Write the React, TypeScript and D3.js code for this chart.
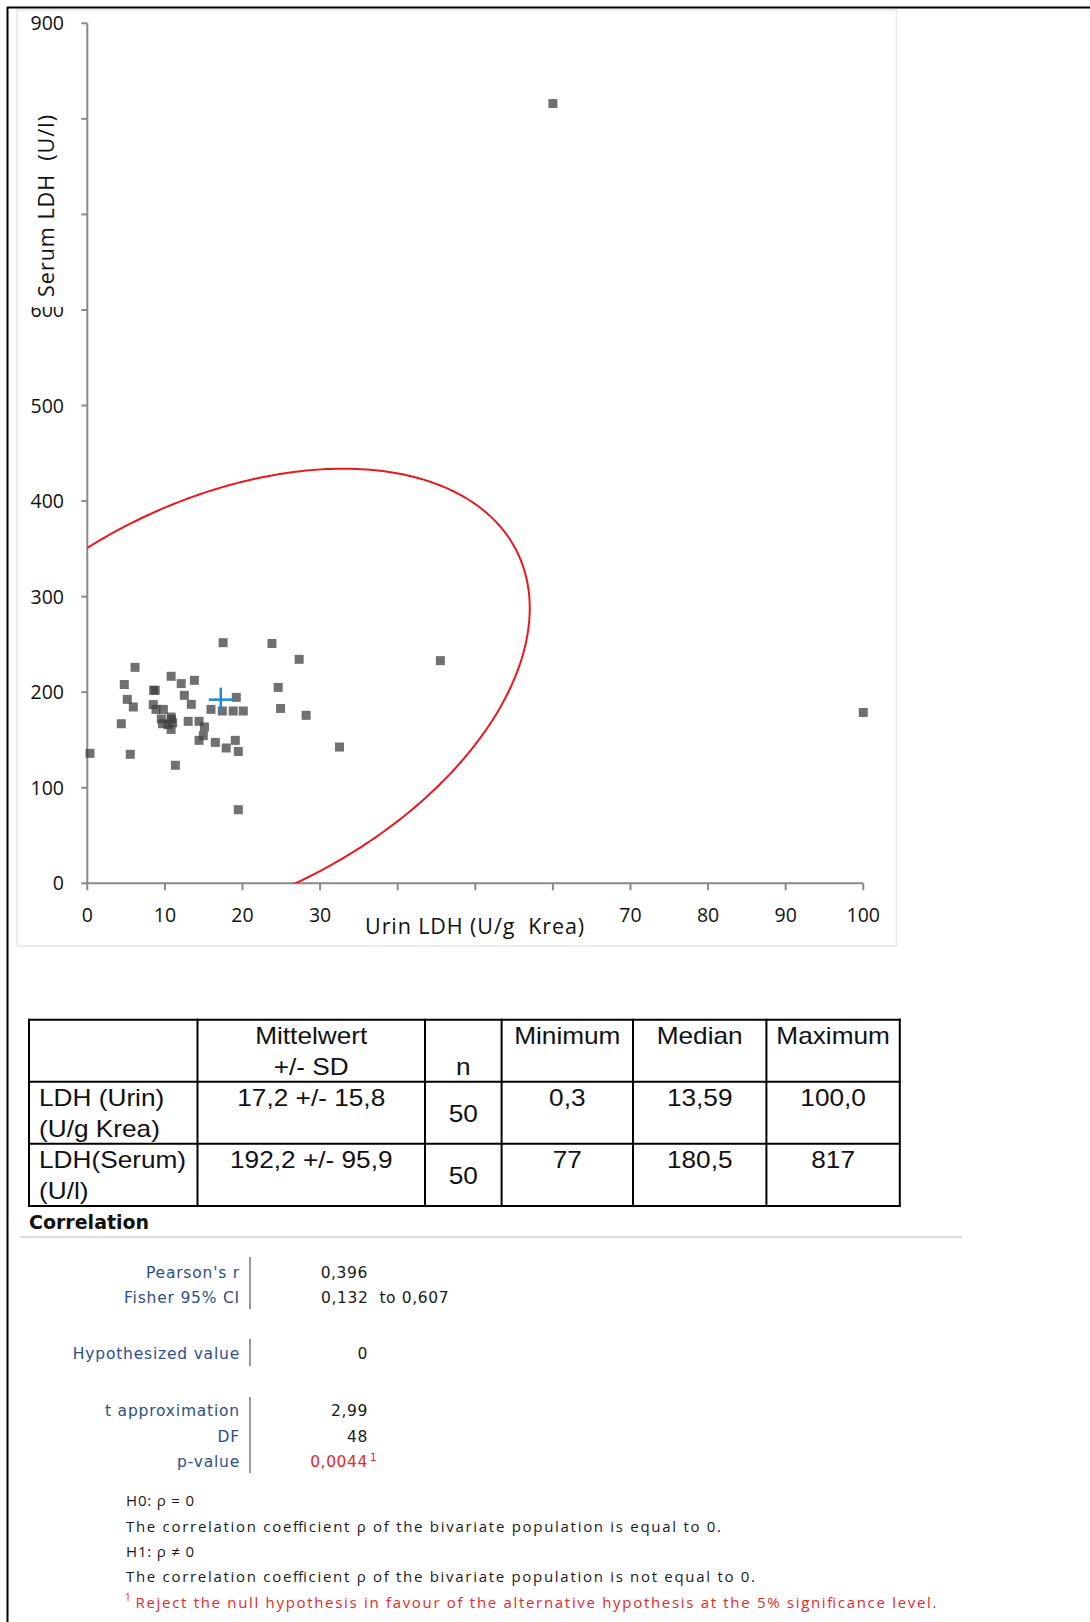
import React from 'react';
import * as d3 from 'd3';

// ---------- data ----------
const urinLDH = [0.35, 4.77, 6.15, 4.38, 5.15, 5.93, 5.54, 8.55, 8.75, 8.5, 8.85, 9.8, 9.54, 9.7, 10.4, 10.8, 10.85, 10.8, 10.8, 11.35, 12.1, 12.5, 13.8, 13.4, 13.0, 14.4, 15.1, 14.95, 14.4, 15.94, 16.5, 17.5, 17.4, 17.9, 19.2, 18.8, 20.1, 19.07, 19.46, 19.46, 23.8, 24.6, 24.9, 27.3, 28.2, 32.5, 45.5, 60.0, 100.0, 11.0];
const serumLDH = [136, 208, 226, 167, 192.5, 184.5, 135, 202, 202, 187, 182, 182, 172, 167, 166, 174, 171.5, 161, 216.6, 123.5, 209, 196.7, 212.4, 187.3, 169.5, 169.5, 163.6, 154.5, 149.6, 182, 147.5, 251.8, 180.3, 141.6, 194.6, 180.3, 180.3, 149.6, 138, 77, 251, 205, 183, 234.4, 175.8, 142.6, 233, 816, 178.8, 168];

const meanValues = [17.2, 192.2]; // urin, serum
const sdValues = [15.8, 95.9];
const pearsonR = [0.396];
const ellipseScale = [2.52];

const xTicks = [0, 10, 20, 30, 40, 50, 60, 70, 80, 90, 100];
// labels 40-60 are hidden behind the axis title in the original
const xTickLabels = ['0', '10', '20', '30', '', '', '', '70', '80', '90', '100'];
const yTicks = [0, 100, 200, 300, 400, 500, 600, 700, 800, 900];
// labels 700-800 are hidden behind the axis title in the original
const yTickLabels = ['0', '100', '200', '300', '400', '500', '600', '', '', '900'];
const xTitle = 'Urin LDH (U/g  Krea)';
const yTitle = 'Serum LDH  (U/l)';

const tableHeader = [['', ''], ['Mittelwert', '+/- SD'], ['', 'n'], ['Minimum', ''], ['Median', ''], ['Maximum', '']];
const rowLabels = [['LDH (Urin)', '(U/g Krea)'], ['LDH(Serum)', '(U/l)']];
const rowMeanSD = ['17,2 +/- 15,8', '192,2 +/- 95,9'];
const rowN = ['50', '50'];
const rowMin = ['0,3', '77'];
const rowMedian = ['13,59', '180,5'];
const rowMax = ['100,0', '817'];

const statLabels = ['Pearson\'s r', 'Fisher 95% CI', 'Hypothesized value', 't approximation', 'DF', 'p-value'];
const statValues = ['0,396', '0,132  to 0,607', '0', '2,99', '48', '0,0044'];
const noteLines = [
  'H0: ρ = 0',
  'The correlation coefficient ρ of the bivariate population is equal to 0.',
  'H1: ρ ≠ 0',
  'The correlation coefficient ρ of the bivariate population is not equal to 0.',
];
const footnote = 'Reject the null hypothesis in favour of the alternative hypothesis at the 5% significance level.';

// ---------- layout ----------
const W = 1090;
const H = 1622;
const plot = { left: 87.3, right: 863.3, top: 23.3, bottom: 883.3 };
const axisColor = '#8a8a8a';
const tickFont = '"Open Sans", sans-serif';

export default function App() {
  const x = d3.scaleLinear().domain([0, 100]).range([plot.left, plot.right]);
  const y = d3.scaleLinear().domain([0, 900]).range([plot.bottom, plot.top]);

  const [mx, my] = meanValues;
  const [sx, sy] = sdValues;
  const r = pearsonR[0];
  const k = ellipseScale[0];
  const ellipsePts: [number, number][] = d3.range(0, 361).map((i) => {
    const t = (i * Math.PI) / 180;
    return [
      mx + k * sx * Math.cos(t),
      my + k * sy * (r * Math.cos(t) + Math.sqrt(1 - r * r) * Math.sin(t)),
    ];
  });
  const ellipsePath = d3.line<[number, number]>().x((d) => x(d[0])).y((d) => y(d[1]))(ellipsePts) || '';

  const tX = [29, 197.5, 425, 501.6, 633, 766.4, 899.8];
  const tY = [1019.7, 1081.8, 1143.8, 1205.9];
  const colCenter = (c: number) => (tX[c] + tX[c + 1]) / 2;
  const tFont = '"Liberation Sans", Arial, sans-serif';
  const tSize = 23;
  const sX = 1.14;

  const TT = (props: { x: number; y: number; text: string; anchor?: string }) => (
    <text
      transform={`translate(${props.x},${props.y}) scale(${sX},1)`}
      textAnchor={props.anchor || 'middle'}
      fontFamily={tFont}
      fontSize={tSize}
      fill="#111"
    >
      {props.text}
    </text>
  );

  const statBase = [1277.5, 1303, 1359, 1416, 1441.5, 1466.5];
  const statFont = '"DejaVu Sans", sans-serif';
  const statBlue = '#2c4f8a';
  const red = '#e62828';
  const noteBase = [1506, 1531.5, 1556.5, 1582, 1608];
  const noteLen = [68, 595, 68, 629];

  return (
    <svg
      width={W}
      height={H}
      style={{ position: 'absolute', left: 0, top: 0, background: '#fff' }}
      xmlns="http://www.w3.org/2000/svg"
    >
      <defs>
        <clipPath id="plotClip">
          <rect x={plot.left} y={plot.top} width={plot.right - plot.left} height={plot.bottom - plot.top} />
        </clipPath>
      </defs>
      <rect x={0} y={0} width={W} height={H} fill="#fff" />

      {/* outer black frame lines */}
      <line x1={7} x2={W} y1={7.5} y2={7.5} stroke="#000" strokeWidth={2} />
      <line x1={7.5} x2={7.5} y1={7} y2={H} stroke="#000" strokeWidth={2} />

      {/* chart area border */}
      <rect x={17} y={10} width={879.5} height={936} fill="#fff" stroke="#ececec" strokeWidth={2} />

      {/* axes */}
      <line x1={plot.left} x2={plot.left} y1={y(900)} y2={y(0)} stroke={axisColor} strokeWidth={2} />
      <line x1={plot.left} x2={plot.right} y1={y(0)} y2={y(0)} stroke={axisColor} strokeWidth={2} />
      {yTicks.map((t, i) => (
        <g key={'yt' + t}>
          <line x1={plot.left - 6} x2={plot.left} y1={y(t)} y2={y(t)} stroke={axisColor} strokeWidth={2} />
          {yTickLabels[i] && (
            <text x={64} y={y(t) + 7} textAnchor="end" fontFamily={tickFont} fontSize={19.5} fill="#111">
              {yTickLabels[i]}
            </text>
          )}
        </g>
      ))}
      {xTicks.map((t, i) => (
        <g key={'xt' + t}>
          <line x1={x(t)} x2={x(t)} y1={y(0)} y2={y(0) + 7} stroke={axisColor} strokeWidth={2} />
          {xTickLabels[i] && (
            <text x={x(t)} y={921.7} textAnchor="middle" fontFamily={tickFont} fontSize={19.5} fill="#111">
              {xTickLabels[i]}
            </text>
          )}
        </g>
      ))}

      {/* axis titles with white backgrounds (the y one clips the top of the "600" label like the original) */}
      <rect x={22} y={104} width={50} height={203} fill="#fff" />
      <text
        transform={`translate(54,206) rotate(-90)`}
        textAnchor="middle"
        fontFamily={tickFont}
        fontSize={21.5}
        fill="#111"
        textLength={182}
        style={{ whiteSpace: 'pre' }}
      >
        {yTitle}
      </text>
      <text
        x={474.6}
        y={934}
        textAnchor="middle"
        fontFamily={tickFont}
        fontSize={21.5}
        fill="#111"
        textLength={219}
        style={{ whiteSpace: 'pre' }}
      >
        {xTitle}
      </text>

      {/* ellipse */}
      <path d={ellipsePath} fill="none" stroke="#e8191e" strokeWidth={2} clipPath="url(#plotClip)" />

      {/* points */}
      {urinLDH.map((u, i) => (
        <rect
          key={'p' + i}
          x={x(u) - 4.5}
          y={y(serumLDH[i]) - 4.5}
          width={9}
          height={9}
          fill="#404040"
          fillOpacity={0.75}
        />
      ))}

      {/* mean cross */}
      <line x1={x(mx) - 12} x2={x(mx) + 12} y1={y(my)} y2={y(my)} stroke="#1e8ad6" strokeWidth={2.5} />
      <line x1={x(mx)} x2={x(mx)} y1={y(my) - 12} y2={y(my) + 12} stroke="#1e8ad6" strokeWidth={2.5} />

      {/* table */}
      {tX.map((tx, i) => (
        <line key={'tv' + i} x1={tx} x2={tx} y1={tY[0] - 1} y2={tY[3] + 1} stroke="#000" strokeWidth={2} />
      ))}
      {tY.map((ty, i) => (
        <line key={'th' + i} x1={tX[0] - 1} x2={tX[6] + 1} y1={ty} y2={ty} stroke="#000" strokeWidth={2} />
      ))}
      {tableHeader.map((h, c) => (
        <g key={'hd' + c}>
          {h[0] && <TT x={colCenter(c)} y={tY[0] + 24.5} text={h[0]} />}
          {h[1] && <TT x={colCenter(c)} y={tY[0] + 55.5} text={h[1]} />}
        </g>
      ))}
      {rowLabels.map((lab, ri) => {
        const top = tY[ri + 1];
        return (
          <g key={'row' + ri}>
            <TT x={39} y={top + 24.5} text={lab[0]} anchor="start" />
            <TT x={39} y={top + 55.5} text={lab[1]} anchor="start" />
            <TT x={colCenter(1)} y={top + 24.5} text={rowMeanSD[ri]} />
            <TT x={colCenter(2)} y={top + 40} text={rowN[ri]} />
            <TT x={colCenter(3)} y={top + 24.5} text={rowMin[ri]} />
            <TT x={colCenter(4)} y={top + 24.5} text={rowMedian[ri]} />
            <TT x={colCenter(5)} y={top + 24.5} text={rowMax[ri]} />
          </g>
        );
      })}

      {/* correlation section */}
      <text x={29} y={1229} fontFamily={statFont} fontWeight="bold" fontSize={19} fill="#111">
        Correlation
      </text>
      <line x1={20} x2={962} y1={1237} y2={1237} stroke="#dddddd" strokeWidth={2} />

      <line x1={250} x2={250} y1={1257} y2={1309} stroke="#9a9a9a" strokeWidth={2} />
      <line x1={250} x2={250} y1={1339} y2={1366} stroke="#9a9a9a" strokeWidth={2} />
      <line x1={250} x2={250} y1={1397} y2={1473} stroke="#9a9a9a" strokeWidth={2} />

      {statLabels.map((s, i) => (
        <text
          key={'sl' + i}
          x={240}
          y={statBase[i]}
          textAnchor="end"
          fontFamily={statFont}
          fontSize={15.5}
          letterSpacing={0.8}
          fill={statBlue}
        >
          {s}
        </text>
      ))}
      {statValues.map((v, i) =>
        i === 1 ? (
          <text key={'sv' + i} x={321} y={statBase[i]} fontFamily={statFont} fontSize={15.5} letterSpacing={0.6} fill="#1a1a1a" style={{ whiteSpace: 'pre' }}>
            {v}
          </text>
        ) : (
          <text
            key={'sv' + i}
            x={368}
            y={statBase[i]}
            textAnchor="end"
            fontFamily={statFont}
            fontSize={15.5}
            letterSpacing={0.6}
            fill={i === 5 ? red : '#1a1a1a'}
          >
            {v}
          </text>
        )
      )}
      <text x={370} y={statBase[5] - 6} fontFamily={statFont} fontSize={10.5} fill={red}>
        1
      </text>

      {noteLines.map((n, i) => (
        <text key={'nl' + i} x={126} y={noteBase[i]} fontFamily={tickFont} fontSize={15} fill="#1a1a1a" textLength={noteLen[i]}>
          {n}
        </text>
      ))}
      <text x={125} y={noteBase[4] - 7} fontFamily={tickFont} fontSize={10} fill={red}>
        1
      </text>
      <text x={135.5} y={noteBase[4]} fontFamily={tickFont} fontSize={15} fill={red} textLength={801}>
        {footnote}
      </text>
    </svg>
  );
}
